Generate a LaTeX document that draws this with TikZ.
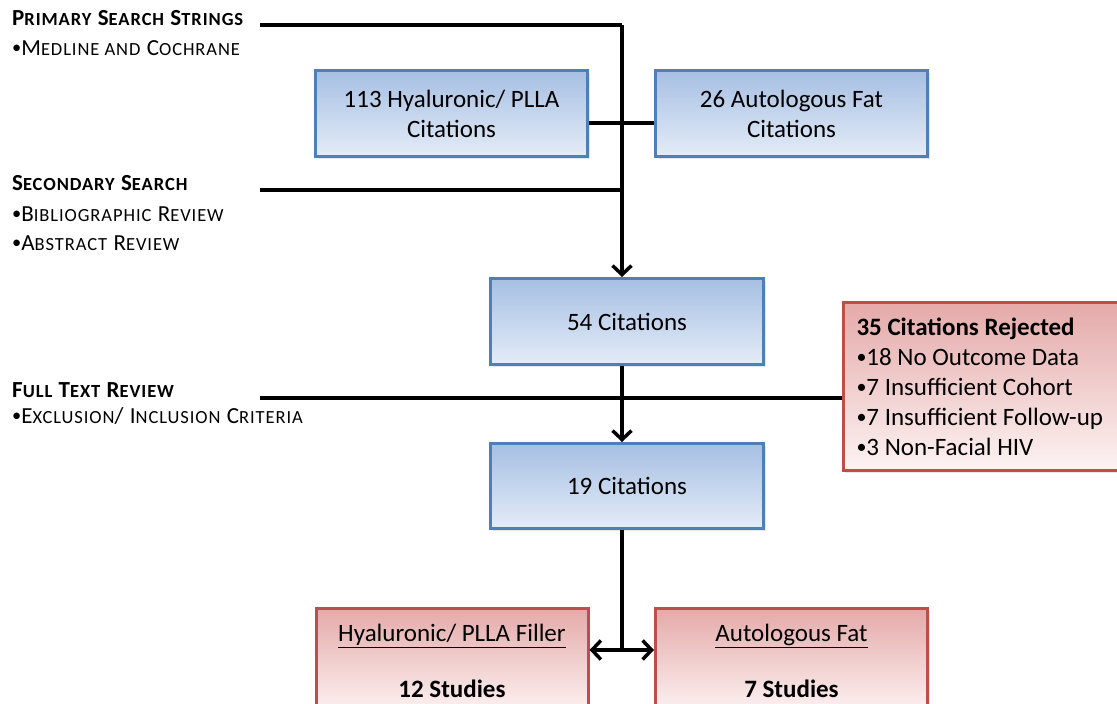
\documentclass[tikz,border=0pt]{standalone}
\usepackage{fontspec}
\setmainfont{Carlito}
\usetikzlibrary{arrows.meta,shadows}
\definecolor{bluedraw}{HTML}{4F7FB8}
\definecolor{bluetop}{HTML}{A6BFE3}
\definecolor{bluebot}{HTML}{E4ECF7}
\definecolor{reddraw}{HTML}{BA4F4C}
\definecolor{redtop}{HTML}{E4AAA9}
\definecolor{redbot}{HTML}{FDF3F3}
\newcommand{\SCap}[2]{{\fontsize{23}{27}\selectfont #1}{\fontsize{18.5}{22}\selectfont #2}}
\newcommand{\bul}{\raisebox{0.05em}{\scalebox{0.8}{•}}}
\begin{document}
\begin{tikzpicture}[x=1pt,y=-1pt,
  boxfont/.style={font=\fontsize{25}{30}\selectfont},
  bluebox/.style={boxfont, draw=bluedraw, line width=3pt, top color=bluetop, bottom color=bluebot,
    minimum width=272pt, minimum height=86pt, inner sep=0pt, align=center,
    drop shadow={opacity=0.2, shadow xshift=2pt, shadow yshift=-2pt}},
  redbox/.style={boxfont, draw=reddraw, line width=3pt, top color=redtop, bottom color=redbot,
    inner sep=0pt, drop shadow={opacity=0.2, shadow xshift=2pt, shadow yshift=-2pt}},
  headtext/.style={anchor=base west, inner sep=0pt, font=\fontsize{23}{27}\selectfont\bfseries\addfontfeature{LetterSpace=5}},
  subtext/.style={anchor=base west, inner sep=0pt, font=\fontsize{23}{27}\selectfont\addfontfeature{LetterSpace=5}},
  conn/.style={line width=3.5pt, black},
  tip/.tip={Straight Barb[length=9pt, width=19pt, line width=3.5pt]},
  arr/.style={conn, -tip},
  darr/.style={conn, tip-tip}
]
\useasboundingbox (0,0) rectangle (1117,704);
\clip (0,0) rectangle (1117,704);

% left labels
\node[headtext] (h1) at (12,25) {\SCap{P}{RIMARY} \SCap{S}{EARCH} \SCap{S}{TRINGS}};
\node[subtext] (s1) at (12,55) {\bul\SCap{M}{EDLINE AND} \SCap{C}{OCHRANE}};
\node[headtext] (h2) at (12,190) {\SCap{S}{ECONDARY} \SCap{S}{EARCH}};
\node[subtext] (s2a) at (12,221) {\bul\SCap{B}{IBLIOGRAPHIC} \SCap{R}{EVIEW}};
\node[subtext] (s2b) at (12,250) {\bul\SCap{A}{BSTRACT} \SCap{R}{EVIEW}};
\node[headtext] (h3) at (12,397) {\SCap{F}{ULL} \SCap{T}{EXT} \SCap{R}{EVIEW}};
\node[subtext] (s3) at (12,423) {\bul\SCap{E}{XCLUSION}/ \SCap{I}{NCLUSION} \SCap{C}{RITERIA}};

% boxes
\node[bluebox] (b113) at (451.5,113.5) {113 Hyaluronic/ PLLA\\Citations};
\node[bluebox] (b26) at (791.5,113.5) {26 Autologous Fat\\Citations};
\node[bluebox, minimum width=273pt] (b54) at (627,321.5) {54 Citations};
\node[bluebox, minimum width=273pt, minimum height=85pt] (b19) at (627,486) {19 Citations};
\node[redbox, anchor=west, minimum width=290pt, minimum height=168pt, text width=263pt, inner xsep=13.5pt, align=flush left] (rej) at (841.5,386.5)
  {\textbf{35 Citations Rejected}\\\bul 18 No Outcome Data\\\bul 7 Insufficient Cohort\\\bul 7 Insufficient Follow-up\\\bul 3 Non-Facial HIV};
\node[redbox, minimum width=272pt, minimum height=105pt, align=center] (bh) at (452,661)
  {\underline{Hyaluronic/ PLLA Filler}\\[-2pt]\mbox{}\\[-2pt]\textbf{12 Studies}};
\node[redbox, minimum width=272pt, minimum height=105pt, align=center] (ba) at (791.5,661)
  {\underline{Autologous Fat}\\[-2pt]\mbox{}\\[-2pt]\textbf{7 Studies}};

% connector coordinates
\coordinate (p1) at (260,25);
\coordinate (p1c) at (622,25);
\coordinate (p2) at (260,190);
\coordinate (p2c) at (622,190);
\coordinate (p3) at (260,398);
\coordinate (j1) at (622,123);
\coordinate (j2) at (622,650);

% connectors
\draw[conn] (p1) -- (p1c);
\draw[arr] (p1c) -- (b54.north -| p1c);
\draw[conn] (p2) -- (p2c);
\draw[conn] (b113.east |- j1) -- (b26.west |- j1);
\draw[conn] (p3) -- (rej.west |- p3);
\draw[arr] (b54.south -| p1c) -- (b19.north -| p1c);
\draw[conn] (b19.south -| p1c) -- (j2);
\draw[darr] (bh.east |- j2) -- (ba.west |- j2);
\end{tikzpicture}
\end{document}
